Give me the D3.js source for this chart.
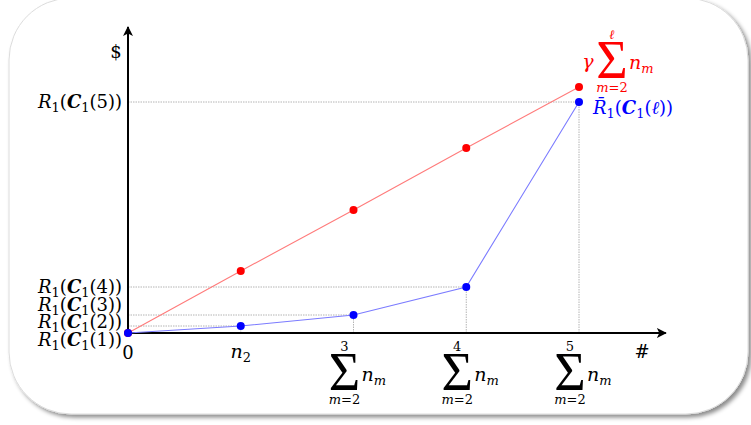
<!DOCTYPE html>
<html>
<head>
<meta charset="utf-8">
<script src="https://cdn.jsdelivr.net/npm/d3@7"></script>
<style>
  html, body { margin: 0; padding: 0; background: #fff; }
  svg { display: block; }
  text { font-family: "DejaVu Serif", "Liberation Serif", serif; }
</style>
</head>
<body>
<svg id="chart" width="751" height="425"></svg>
<script>
// Steps along the horizontal axis (cumulative item counts)
const steps = [0, 1, 2, 3, 4];
const stepUpper = [null, null, "3", "4", "5"];
// Linear budget line  γ Σ n_m
const budgetVals = [0, 62, 123, 185, 246];
// Revenue curve  R̄1(C1(ℓ))
const revenueVals = [0, 7, 18, 46, 231];
// Reference levels on the vertical axis, R1(C1(k))
const levelIndex = [1, 2, 3, 4, 5];
const levelVals = [0, 7, 18, 46, 231];

const svg = d3.select("#chart");
const defs = svg.append("defs");

const shadow = defs.append("filter").attr("id", "shadow")
  .attr("x", "-5%").attr("y", "-5%").attr("width", "110%").attr("height", "112%");
shadow.append("feDropShadow").attr("dx", 3).attr("dy", 3)
  .attr("stdDeviation", 2.2).attr("flood-color", "#000").attr("flood-opacity", 0.45);

defs.append("marker").attr("id", "arrow")
  .attr("viewBox", "0 0 10 10").attr("refX", 9).attr("refY", 5)
  .attr("markerWidth", 5).attr("markerHeight", 5).attr("orient", "auto")
  .append("path").attr("d", "M0,0 L10,5 L0,10 L2.5,5 Z").attr("fill", "#000");

// card background
svg.append("rect")
  .attr("x", 9).attr("y", -2).attr("width", 739).attr("height", 416)
  .attr("rx", 62).attr("ry", 62)
  .attr("fill", "#fff").attr("stroke", "#dcdcdc").attr("stroke-width", 1)
  .attr("filter", "url(#shadow)");

const x = d3.scaleLinear().domain([0, 4]).range([128, 579]);
const y = d3.scaleLinear().domain([0, 306]).range([333, 27]);

const red = "#ff0000", redLine = "#ff7b7b";
const blue = "#0000ff", blueLine = "#7b7bff";
const grid = "#b4b4b4";

// dotted guides: horizontal to each revenue level, vertical from each point
const g = svg.append("g");
revenueVals.forEach((v, i) => {
  if (i === 0) return;
  g.append("line")
    .attr("x1", x(0)).attr("x2", x(steps[i]))
    .attr("y1", y(v)).attr("y2", y(v))
    .attr("stroke", grid).attr("stroke-width", 1).attr("stroke-dasharray", "1.5,1");
  g.append("line")
    .attr("x1", x(steps[i])).attr("x2", x(steps[i]))
    .attr("y1", y(0)).attr("y2", y(v))
    .attr("stroke", grid).attr("stroke-width", 1).attr("stroke-dasharray", "1.5,1");
});

// axes
svg.append("line").attr("x1", x(0)).attr("x2", x(0))
  .attr("y1", y(0) + 1).attr("y2", y(306))
  .attr("stroke", "#000").attr("stroke-width", 2).attr("marker-end", "url(#arrow)");
svg.append("line").attr("x1", x(0) - 1).attr("x2", x(4.77))
  .attr("y1", y(0)).attr("y2", y(0))
  .attr("stroke", "#000").attr("stroke-width", 2).attr("marker-end", "url(#arrow)");

// series
const line = d3.line().x((d, i) => x(steps[i])).y(d => y(d));
svg.append("path").datum(budgetVals).attr("d", line)
  .attr("fill", "none").attr("stroke", redLine).attr("stroke-width", 1.1);
svg.append("path").datum(revenueVals).attr("d", line)
  .attr("fill", "none").attr("stroke", blueLine).attr("stroke-width", 1.1);
svg.selectAll(".pr").data(budgetVals).join("circle")
  .attr("cx", (d, i) => x(steps[i])).attr("cy", d => y(d)).attr("r", 4).attr("fill", red);
svg.selectAll(".pb").data(revenueVals).join("circle")
  .attr("cx", (d, i) => x(steps[i])).attr("cy", d => y(d)).attr("r", 4).attr("fill", blue);

// helpers for math-style labels
function rLabel(sel, inner, bar) {
  sel.append("tspan").attr("font-style", "italic").text(bar ? "R\u0304" : "R");
  sel.append("tspan").attr("font-size", "72%").attr("dy", 4).text("1");
  sel.append("tspan").attr("dy", -4).text("(");
  sel.append("tspan").attr("font-style", "italic").attr("font-weight", "bold").text("C");
  sel.append("tspan").attr("font-size", "72%").attr("dy", 4).text("1");
  sel.append("tspan").attr("dy", -4).text("(");
  sel.append("tspan").attr("font-style", inner === "\u2113" ? "italic" : "normal").text(inner);
  sel.append("tspan").text("))");
}

// big sigma whose bottom edge sits at `base`, centred on cx
function sumLabel(cx, base, upper, color, size) {
  const s = svg.append("g").attr("fill", color);
  const top = base - size * 0.655;
  s.append("text").attr("x", cx).attr("y", base)
    .attr("text-anchor", "middle").attr("font-size", size)
    .style("font-family", "'Liberation Serif', serif").attr("font-weight", 300)
    .text("\u03A3");
  s.append("text").attr("x", cx).attr("y", top - 4)
    .attr("text-anchor", "middle").attr("font-size", 13)
    .attr("font-style", upper === "\u2113" ? "italic" : "normal").text(upper);
  const low = s.append("text").attr("x", cx).attr("y", base + 14)
    .attr("text-anchor", "middle").attr("font-size", 13);
  low.append("tspan").attr("font-style", "italic").text("m");
  low.append("tspan").text("=2");
  const nm = s.append("text").attr("x", cx + 17).attr("y", (top + base) / 2 + 9)
    .attr("font-size", 19);
  nm.append("tspan").attr("font-style", "italic").text("n");
  nm.append("tspan").attr("font-style", "italic").attr("font-size", 13).attr("dy", 4).text("m");
  return s;
}

const fs = 18;
// vertical axis labels
svg.append("text").attr("x", 116).attr("y", 58).attr("text-anchor", "middle")
  .attr("font-size", fs).text("$");
const topLab = svg.append("text").attr("x", 122).attr("y", y(levelVals[4]) + 6)
  .attr("text-anchor", "end").attr("font-size", fs);
rLabel(topLab, String(levelIndex[4]));
[3, 2, 1, 0].forEach((k, j) => {
  const t = svg.append("text").attr("x", 122).attr("y", y(levelVals[3]) + 6 + j * 17.7)
    .attr("text-anchor", "end").attr("font-size", fs);
  rLabel(t, String(levelIndex[k]));
});

// horizontal axis labels
svg.append("text").attr("x", x(0)).attr("y", 359).attr("text-anchor", "middle")
  .attr("font-size", fs).text("0");
const n2 = svg.append("text").attr("x", x(1)).attr("y", 358).attr("text-anchor", "middle")
  .attr("font-size", 19);
n2.append("tspan").attr("font-style", "italic").text("n");
n2.append("tspan").attr("font-size", 13).attr("dy", 4).text("2");
steps.forEach((s, i) => {
  if (!stepUpper[i]) return;
  sumLabel(x(s) - 9, 390, stepUpper[i], "#000", 54);
});
svg.append("text").attr("x", 642).attr("y", 358).attr("text-anchor", "middle")
  .attr("font-size", fs).text("#");

// series labels
svg.append("text").attr("x", 588).attr("y", 68).attr("text-anchor", "middle")
  .attr("font-size", 19).attr("font-style", "italic").attr("fill", red).text("\u03B3");
sumLabel(612, 78, "\u2113", red, 54);
const bl = svg.append("text").attr("x", 593).attr("y", 114)
  .attr("font-size", fs).attr("fill", blue);
rLabel(bl, "\u2113", true);
</script>
</body>
</html>
